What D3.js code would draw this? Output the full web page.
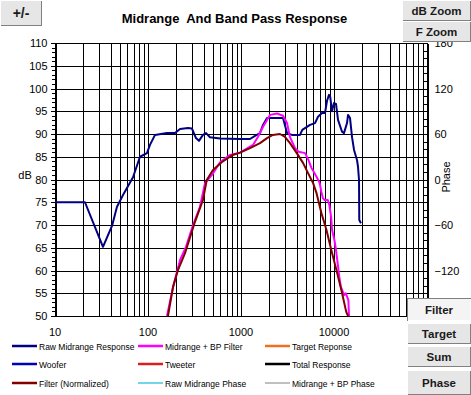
<!DOCTYPE html>
<html>
<head>
<meta charset="utf-8">
<script src="https://cdn.jsdelivr.net/npm/d3@7"></script>
<style>
  html, body { margin: 0; padding: 0; background: #fff; }
  svg { display: block; font-family: "Liberation Sans", Arial, sans-serif; }
</style>
</head>
<body>
<div id="chart"></div>
<script>
// frequency (Hz), level (dB)
const rawMidrange = [
  [10, 75], [21, 75], [32.8, 65.2], [41, 69.8], [46.4, 74], [55.2, 77], [69, 80.5],
  [82, 85], [97.5, 85.8], [105, 87.6], [119, 89.8], [160, 90.2], [195, 90.2],
  [221, 91.1], [269, 91.3], [297, 91.2], [328, 89.1], [353, 88.5], [390, 89.8],
  [421, 90.2], [464, 89.3], [595, 89.0], [975, 88.9], [1250, 88.9], [1415, 89.6],
  [1600, 90.2], [1725, 92], [1905, 93.5], [2830, 93.5], [3125, 90.2], [3535, 89.8],
  [4310, 89.8], [4560, 90.9], [5520, 92], [6250, 92.4], [6735, 93.8], [7435, 94.6],
  [8000, 94.6], [8410, 97.3], [8830, 98.6], [9100, 98.2], [9510, 95.0], [10000, 96.8],
  [10510, 96.6], [11050, 93.1], [12200, 90.5], [12800, 90.2], [13800, 92.4],
  [14160, 94.2], [14870, 93.5], [15630, 89.3], [16420, 86.5], [17670, 84.3],
  [18120, 82.8], [18580, 79.9], [18700, 71.1], [19500, 70.4]
];
const midrangeBP = [
  [160, 50], [186, 56.4], [221, 62.3], [256, 65.2], [305, 70], [362, 74], [410, 79.2],
  [488, 81], [595, 83.8], [762, 85.4], [975, 85.9], [1346, 87.6], [1524, 89.4],
  [1725, 91.6], [2052, 94.2], [2440, 94.5], [2830, 94.0], [3125, 92.4], [3365, 89.3],
  [3810, 86.9], [4160, 86.1], [4890, 85.8], [5300, 84.3], [5740, 82.5], [6490, 80.6],
  [7020, 79.2], [7310, 77.3], [7600, 75.9], [7920, 75.5], [8580, 75.5], [8910, 74.4],
  [9310, 71.8], [9540, 68.9], [10100, 66.7], [10510, 64.5], [10950, 61.6],
  [11400, 58.6], [11860, 56.4], [12850, 54.6], [13390, 55.0], [14270, 53.5], [14500, 50]
];
const filterNormalized = [
  [164, 50], [186, 56.4], [210, 60.1], [250, 63.8], [320, 70.7], [390, 75.5],
  [428, 79.9], [500, 82.1], [620, 83.8], [815, 85.4], [975, 85.9], [1250, 86.9],
  [1600, 88], [1905, 89.1], [2200, 89.8], [2620, 90], [2950, 89.4], [3365, 88],
  [3980, 85.8], [4660, 83.6], [5260, 81.4], [5960, 79.2], [6490, 77.0], [7330, 72.6],
  [8300, 68.9], [9350, 64.5], [10620, 60.1], [12000, 55.7], [13540, 50.9], [14160, 50]
];

const dbTicks = [50, 55, 60, 65, 70, 75, 80, 85, 90, 95, 100, 105, 110];
// -180 sits under the Filter button in the original, so no label for it
const phaseTicks = [180, 120, 60, 0, -60, -120];
const freqLabels = [10, 100, 1000, 10000];

const legendNames = [
  "Raw Midrange Response", "Midrange + BP Filter", "Target Reponse",
  "Woofer", "Tweeter", "Total Response",
  "Filter (Normalized)", "Raw Midrange Phase", "Midrange + BP Phase"
];
const legendColors = [
  "#000080", "#ff00ff", "#f07020",
  "#0000b8", "#d82020", "#000000",
  "#800000", "#40c8e0", "#808080"
];
const buttonLabels = ["+/-", "dB Zoom", "F Zoom", "Filter", "Target", "Sum", "Phase"];

const config = {
  width: 471, height: 395,
  margin: { top: 43, right: 44, bottom: 79, left: 55 }
};

const svg = d3.select("#chart").append("svg")
  .attr("width", config.width)
  .attr("height", config.height);

const x0 = config.margin.left, x1 = config.width - config.margin.right;
const y0 = config.margin.top, y1 = config.height - config.margin.bottom;

const x = d3.scaleLog().domain([10, 100000]).range([x0, x1]);
const y = d3.scaleLinear().domain([50, 110]).range([y1, y0]);
const phase = d3.scaleLinear().domain([-180, 180]).range([y1, y0]);

// title
svg.append("text")
  .attr("x", 234.5).attr("y", 23)
  .attr("text-anchor", "middle")
  .style("white-space", "pre")
  .style("font-size", "13px").style("font-weight", "bold")
  .text("Midrange  And Band Pass Response");

// grid
const grid = svg.append("g").attr("shape-rendering", "crispEdges")
  .attr("stroke", "#000").attr("stroke-width", 1);
grid.selectAll("line.v").data(x.ticks()).enter().append("line")
  .attr("x1", d => Math.round(x(d)) + 0.5).attr("x2", d => Math.round(x(d)) + 0.5)
  .attr("y1", y0).attr("y2", y1);
grid.selectAll("line.h").data(dbTicks).enter().append("line")
  .attr("x1", x0).attr("x2", x1)
  .attr("y1", d => Math.round(y(d)) + 0.5).attr("y2", d => Math.round(y(d)) + 0.5);

// minor ticks: 1 dB outside the left axis, 10 deg inside the right axis
const minorDb = d3.range(50, 111, 1);
grid.selectAll("line.mdb").data(minorDb).enter().append("line")
  .attr("x1", x0 - 3).attr("x2", x0)
  .attr("y1", d => Math.round(y(d)) + 0.5).attr("y2", d => Math.round(y(d)) + 0.5);
const minorPh = d3.range(-180, 181, 10);
grid.selectAll("line.mph").data(minorPh).enter().append("line")
  .attr("x1", x1 - 3).attr("x2", x1)
  .attr("y1", d => Math.round(phase(d)) + 0.5).attr("y2", d => Math.round(phase(d)) + 0.5);

const yAxis = d3.axisLeft(y).tickValues(dbTicks).tickSize(5).tickPadding(3);
svg.append("g").attr("transform", `translate(${x0 + 0.5},0)`)
  .attr("shape-rendering", "crispEdges")
  .call(yAxis)
  .call(g => g.select(".domain").attr("stroke", "#000"))
  .call(g => g.selectAll("text").style("font-size", "11px").attr("fill", "#000")
    .style("font-family", '"Liberation Sans", Arial, sans-serif'));

const pAxis = d3.axisRight(phase).tickValues(phaseTicks).tickSizeInner(-5).tickSizeOuter(0).tickPadding(7);
svg.append("g").attr("transform", `translate(${x1 + 0.5},0)`)
  .attr("shape-rendering", "crispEdges")
  .call(pAxis)
  .call(g => g.select(".domain").attr("stroke", "#000"))
  .call(g => g.selectAll("text").style("font-size", "11px").attr("fill", "#000")
    .style("font-family", '"Liberation Sans", Arial, sans-serif'));

// frequency labels
svg.selectAll("text.xl").data(freqLabels).enter().append("text")
  .attr("x", d => x(d)).attr("y", 336)
  .attr("text-anchor", "middle")
  .style("font-size", "11px")
  .text(d => d);

// axis titles
svg.append("text").attr("x", 25).attr("y", 179)
  .attr("text-anchor", "middle").style("font-size", "11px").text("dB");
svg.append("text")
  .attr("transform", "translate(450,177) rotate(-90)")
  .attr("text-anchor", "middle").style("font-size", "11px").text("Phase");

// curves
svg.append("clipPath").attr("id", "plot-clip")
  .append("rect").attr("x", x0).attr("y", y0)
  .attr("width", x1 - x0).attr("height", y1 - y0);

const line = d3.line().x(d => x(d[0])).y(d => y(d[1]));
const curves = svg.append("g").attr("clip-path", "url(#plot-clip)")
  .attr("fill", "none").attr("stroke-width", 2).attr("stroke-linejoin", "round");
curves.append("path").datum(rawMidrange).attr("stroke", legendColors[0]).attr("d", line);
curves.append("path").datum(midrangeBP).attr("stroke", legendColors[1]).attr("d", line);
curves.append("path").datum(filterNormalized).attr("stroke", legendColors[6]).attr("d", line);

// legend, 3 columns x 3 rows
const legendCols = [12, 138, 265];
const legendRows = [346, 364, 383];
const legend = svg.selectAll("g.legend").data(legendNames).enter().append("g")
  .attr("transform", (d, i) => `translate(${legendCols[i % 3]},${legendRows[Math.floor(i / 3)]})`);
legend.append("line")
  .attr("x1", 0).attr("x2", 25).attr("y1", 0).attr("y2", 0)
  .attr("stroke", (d, i) => legendColors[i])
  .attr("stroke-width", (d, i) => (i === 8 ? 1 : i === 7 ? 1.5 : 2.5));
legend.append("text")
  .attr("x", 27).attr("y", 3.5)
  .style("font-size", "8.5px")
  .text(d => d);

// buttons
const buttonBoxes = [
  [0, 0, 42, 26, 14], [402, 0, 69, 21, 11.5], [402, 21, 69, 21, 11.5],
  [407, 298, 64, 23, 11.5], [407, 323, 64, 21, 11.5], [407, 346, 64, 21, 11.5],
  [407, 370, 64, 25, 11.5]
];
const buttons = svg.selectAll("g.button").data(buttonLabels).enter().append("g")
  .attr("shape-rendering", "crispEdges")
  .attr("transform", (d, i) => `translate(${buttonBoxes[i][0]},${buttonBoxes[i][1]})`);
buttons.each(function (d, i) {
  const [bx, by, bw, bh, fs] = buttonBoxes[i];
  const g = d3.select(this);
  const pressed = d === "Filter";
  g.append("rect").attr("width", bw).attr("height", bh)
    .attr("fill", pressed ? "#f4f4f4" : "#e6e6e6");
  const light = pressed ? "#808080" : "#ffffff";
  const dark = pressed ? "#ffffff" : "#808080";
  g.append("path").attr("d", `M0.5,${bh - 0.5}V0.5H${bw - 0.5}`)
    .attr("fill", "none").attr("stroke", light);
  g.append("path").attr("d", `M0.5,${bh - 0.5}H${bw - 0.5}V0.5`)
    .attr("fill", "none").attr("stroke", dark);
  g.append("text").attr("x", bw / 2).attr("y", bh / 2 + fs * 0.36)
    .attr("text-anchor", "middle")
    .style("font-size", fs + "px").style("font-weight", "bold")
    .attr("fill", "#1a1a1a")
    .text(d);
});
</script>
</body>
</html>
